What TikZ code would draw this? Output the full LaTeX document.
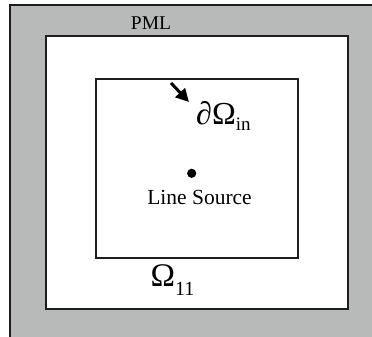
\documentclass[tikz,border=0pt]{standalone}
\usepackage{fontspec}
\setmainfont{Liberation Serif}
\usetikzlibrary{arrows.meta}
\definecolor{pmlgray}{RGB}{184,186,186}
\definecolor{edge}{RGB}{30,30,30}
\begin{document}
\begin{tikzpicture}[x=1pt,y=-1pt,
  region/.style={draw=edge,line width=2pt},
  lbl/.style={inner sep=0pt,anchor=base},
  big/.style={font=\fontsize{20.5}{22}\selectfont}]
\useasboundingbox (0,0) rectangle (372,337);
\clip (0,0) rectangle (372,337);
% absorbing layer
\filldraw[region,fill=pmlgray] (10,5) rectangle (380,345);
% computational domain and inner boundary
\filldraw[region,fill=white] (46,36) rectangle (348,308.5);
\draw[region] (95.5,78.5) rectangle (298,258);
% labels
\node[lbl,font=\fontsize{19.5}{22}\selectfont] (pml) at (151,30) {PML};
\node[lbl,font=\fontsize{21.5}{22}\selectfont] (src) at (199.5,204) {Line Source};
\node[lbl,anchor=base west] (omega) at (150.5,286.7)
  {\fontsize{33}{34}\selectfont Ω\raisebox{-9pt}{\fontsize{20}{20}\selectfont 11}};
\node[lbl,anchor=base west] (bnd) at (196,124)
  {\fontsize{32}{34}\selectfont \textit{∂}Ω\raisebox{-6pt}{\fontsize{19}{20}\selectfont in}};
% source point
\fill (191.7,173.3) circle (4.6pt) coordinate (dot);
% arrow towards the inner boundary
\coordinate (tail) at (171,83);
\coordinate (tip) at (189,102);
\draw[line width=3pt,-{Triangle[length=13pt,width=13pt]}] (tail) -- (tip);
\end{tikzpicture}
\end{document}
